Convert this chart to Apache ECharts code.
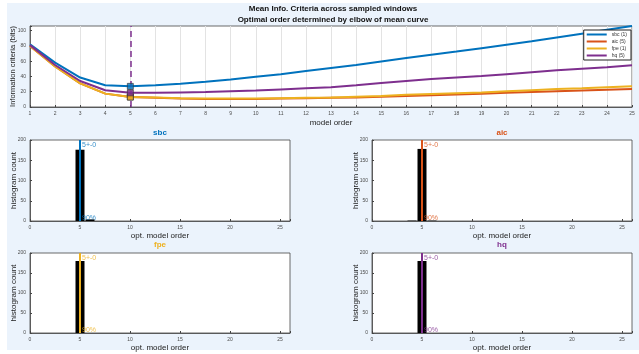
<!DOCTYPE html>
<html>
<head>
<meta charset="utf-8">
<script src="https://cdn.jsdelivr.net/npm/echarts@6/dist/echarts.min.js"></script>
<style>
  html, body { margin: 0; padding: 0; background: #fff; }
  #chart { width: 639px; height: 354px; }
</style>
</head>
<body>
<div id="chart"></div>
<script>
// 模型阶数 1..25
const modelOrder = [1, 2, 3, 4, 5, 6, 7, 8, 9, 10, 11, 12, 13, 14, 15, 16, 17, 18, 19, 20, 21, 22, 23, 24, 25]
// 平均信息准则曲线
const sbcMean = [82, 58, 38.5, 28.5, 27, 28.5, 30.5, 33, 36, 39.5, 43, 47, 51, 55, 59.5, 64, 68.5, 72.5, 77, 81.5, 86, 91, 96, 101, 106]
const aicMean = [80, 53, 31, 17.5, 13, 12, 11, 10.5, 10.5, 10.5, 11, 11.5, 12, 12.5, 13.5, 14.5, 15.5, 16.5, 17.5, 18.5, 19.5, 20.5, 21.5, 22.5, 23.5]
const fpeMean = [80, 53, 31, 17.5, 13, 12.5, 11.5, 11, 11, 11, 11.5, 12, 12.5, 13.5, 14.5, 16, 17, 18, 19, 20.5, 22, 23.5, 24.5, 26, 27]
const hqMean = [81, 55, 34, 22, 18.5, 18.5, 19, 19.5, 20.5, 21.5, 23, 24.5, 26, 28.5, 31.5, 34, 36.5, 38.5, 40.5, 43, 45.5, 48, 50, 52, 54.5]
const legendNames = ['sbc (1)', 'aic (5)', 'fpe (1)', 'hq (5)']
const elbowOrder = 5
// 直方图
const histOrders = [4, 5, 6]
const sbcHist = [0, 176, 4]
const aicHist = [1, 178, 1]
const fpeHist = [0, 180, 0]
const hqHist = [0, 180, 0]
const histTopText = '5+-0'
const histBottomText = '90%'

const colors = ['#0072BD', '#D95319', '#EDB120', '#7E2F8E']
const labelColor = '#4d4d4d'

let myChart = echarts.init(document.getElementById('chart'))

const grids = [
  { left: 30, top: 26, width: 602, height: 81 },
  { left: 30, top: 140, width: 260, height: 81 },
  { left: 372, top: 140, width: 260, height: 81 },
  { left: 30, top: 253, width: 260, height: 80 },
  { left: 372, top: 253, width: 260, height: 80 }
].map(g => Object.assign({ show: true, outerBoundsMode: 'none', containLabel: false, backgroundColor: '#fff', borderColor: '#444', borderWidth: 0.8 }, g))

const tickLabel = { color: labelColor, fontSize: 5, margin: 4, fontFamily: 'Liberation Sans' }
const nameStyle = { color: '#222', fontSize: 8, fontFamily: 'Liberation Sans' }

const xAxes = [{
  gridIndex: 0,
  type: 'value',
  min: 1,
  max: 25,
  interval: 1,
  name: 'model order',
  nameLocation: 'middle',
  nameGap: 12,
  nameMoveOverlap: false,
  nameTextStyle: nameStyle,
  axisLine: { lineStyle: { color: '#444', width: 0.8 } },
  axisTick: { inside: true, length: 2, lineStyle: { color: '#444' } },
  axisLabel: tickLabel,
  splitLine: { show: true, lineStyle: { color: '#e3e3e3', width: 1 } }
}]
const yAxes = [{
  gridIndex: 0,
  type: 'value',
  min: 0,
  max: 106,
  interval: 20,
  name: 'Information criteria (bits)',
  nameLocation: 'middle',
  nameGap: 13,
  nameMoveOverlap: false,
  nameTextStyle: { color: '#222', fontSize: 7.5, fontFamily: 'Liberation Sans' },
  axisLine: { show: true, lineStyle: { color: '#444', width: 0.8 } },
  axisTick: { show: true, inside: true, length: 2, lineStyle: { color: '#444' } },
  axisLabel: Object.assign({}, tickLabel, { formatter: v => (v % 20 === 0 ? v : '') }),
  splitLine: { show: false }
}]

for (let i = 1; i <= 4; i++) {
  xAxes.push({
    gridIndex: i,
    type: 'value',
    min: 0,
    max: 26,
    interval: 5,
    name: 'opt. model order',
    nameLocation: 'middle',
    nameGap: 11,
    nameMoveOverlap: false,
    nameTextStyle: nameStyle,
    axisLine: { lineStyle: { color: '#444', width: 0.8 } },
    axisTick: { inside: true, length: 2, lineStyle: { color: '#444' } },
    axisLabel: Object.assign({}, tickLabel, { formatter: v => (v % 5 === 0 ? v : '') }),
    splitLine: { show: false }
  })
  yAxes.push({
    gridIndex: i,
    type: 'value',
    min: 0,
    max: 200,
    interval: 50,
    name: 'histogram count',
    nameLocation: 'middle',
    nameGap: 12,
    nameMoveOverlap: false,
    nameTextStyle: nameStyle,
    axisLine: { show: true, lineStyle: { color: '#444', width: 0.8 } },
    axisTick: { show: true, inside: true, length: 2, lineStyle: { color: '#444' } },
    axisLabel: tickLabel,
    splitLine: { show: false }
  })
}

const means = [sbcMean, aicMean, fpeMean, hqMean]
const series = []
means.forEach((arr, k) => {
  series.push({
    name: legendNames[k],
    type: 'line',
    xAxisIndex: 0,
    yAxisIndex: 0,
    data: modelOrder.map((o, i) => [o, arr[i]]),
    symbol: 'none',
    lineStyle: { color: colors[k], width: 2 },
    itemStyle: { color: colors[k] },
    z: 3 + k,
    markLine: k === 3 ? {
      silent: true,
      symbol: 'none',
      label: { show: false },
      lineStyle: { color: colors[3], type: [6, 4], width: 1.5 },
      data: [{ xAxis: elbowOrder }]
    } : undefined
  })
})
// 拐点标记
means.forEach((arr, k) => {
  const idx = modelOrder.indexOf(elbowOrder)
  series.push({
    type: 'scatter',
    xAxisIndex: 0,
    yAxisIndex: 0,
    data: [[elbowOrder, arr[idx]]],
    symbol: 'rect',
    symbolSize: 6,
    itemStyle: { color: colors[k], borderColor: '#333', borderWidth: 0.8 },
    z: 10
  })
})

const hists = [sbcHist, aicHist, fpeHist, hqHist]
const titles = ['sbc', 'aic', 'fpe', 'hq']
hists.forEach((h, k) => {
  const ai = k + 1
  series.push({
    type: 'bar',
    xAxisIndex: ai,
    yAxisIndex: ai,
    data: histOrders.map((o, i) => [o, h[i]]),
    barWidth: 9,
    itemStyle: { color: '#000' },
    z: 3
  })
  series.push({
    type: 'line',
    xAxisIndex: ai,
    yAxisIndex: ai,
    data: [[elbowOrder, 0], [elbowOrder, 200]],
    symbol: 'none',
    lineStyle: { color: colors[k], width: 2 },
    z: 5
  })
  series.push({
    type: 'scatter',
    xAxisIndex: ai,
    yAxisIndex: ai,
    symbolSize: 0,
    z: 6,
    data: [
      { value: [elbowOrder, 200], label: { formatter: histTopText, offset: [0, 5] } },
      { value: [elbowOrder, 0], label: { formatter: histBottomText, offset: [0, -3] } }
    ],
    label: {
      show: true,
      position: 'right',
      distance: 2,
      color: colors[k],
      fontSize: 7,
      fontFamily: 'Liberation Sans'
    }
  })
})

const titleList = [
  { text: 'Mean Info. Criteria across sampled windows\nOptimal order determined by elbow of mean curve', left: 333, top: 3, padding: 0, textAlign: 'center',
    textStyle: { fontSize: 8, fontWeight: 'bold', color: '#111', lineHeight: 11, fontFamily: 'Liberation Sans' } }
]
const centers = [[160, 129], [502, 129], [160, 241], [502, 241]]
titles.forEach((t, k) => {
  titleList.push({
    text: t,
    left: centers[k][0],
    top: centers[k][1],
    padding: 0,
    textAlign: 'center',
    textStyle: { fontSize: 8, fontWeight: 'bold', color: colors[k], fontFamily: 'Liberation Sans' }
  })
})

myChart.setOption({
  animation: false,
  backgroundColor: '#fff',
  graphic: [{
    type: 'rect',
    shape: { x: 7, y: 3, width: 632, height: 347 },
    style: { fill: '#ebf3fc' },
    z: -10,
    silent: true
  }],
  title: titleList,
  legend: {
    data: legendNames,
    orient: 'vertical',
    right: 8,
    top: 30,
    icon: 'rect',
    itemWidth: 20,
    itemHeight: 2,
    itemGap: 2,
    padding: [2, 4, 2, 3],
    backgroundColor: '#fff',
    borderColor: '#222',
    borderWidth: 1,
    textStyle: { fontSize: 5, color: '#333', fontFamily: 'Liberation Sans' }
  },
  grid: grids,
  xAxis: xAxes,
  yAxis: yAxes,
  series: series
})
</script>
</body>
</html>
